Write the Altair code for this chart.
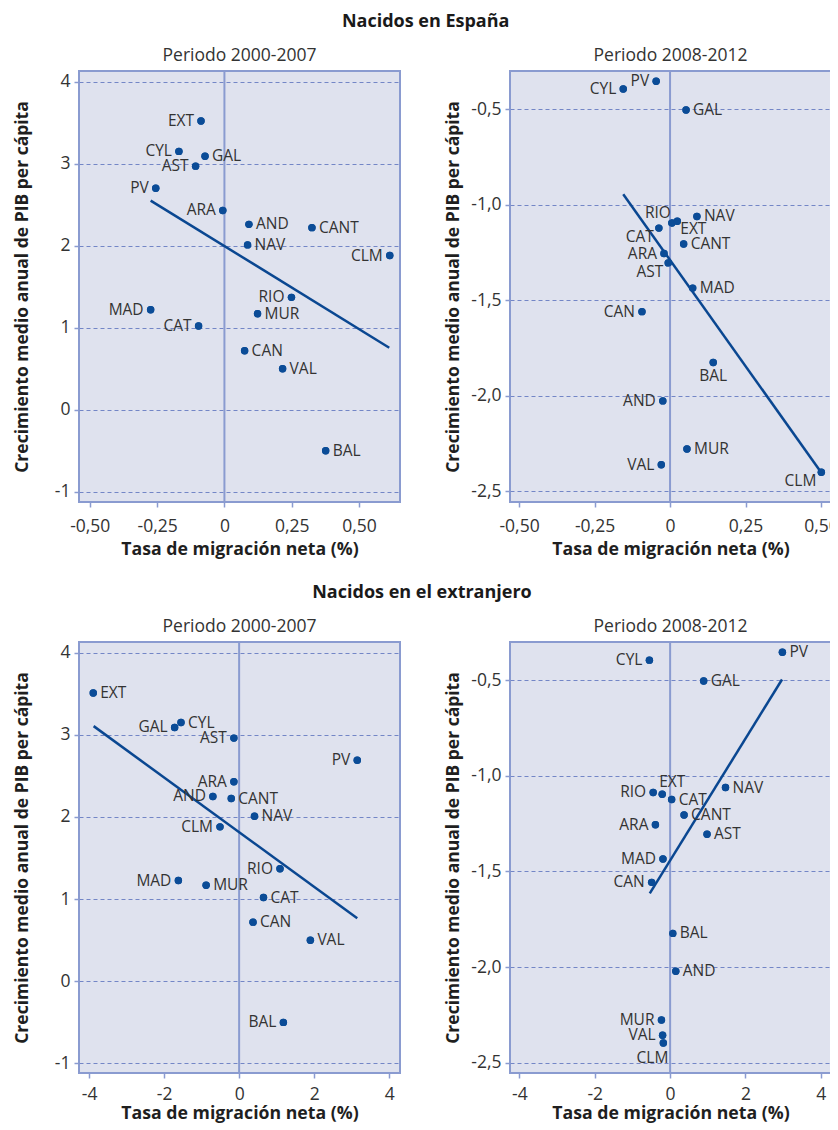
import altair as alt
import pandas as pd

FONT = "Open Sans"
PT = "#0b4c97"
BORDER = "#8a9bd0"
GRID = "#7386c6"
BG = "#dfe2ee"
TXT = "#333333"

# ---- Nacidos en España, 2000-2007
reg_1 = ["EXT", "CYL", "GAL", "AST", "PV", "ARA", "AND", "CANT", "NAV", "CLM", "RIO", "MAD", "MUR", "CAT", "CAN", "VAL", "BAL"]
x_1 = [-0.087, -0.169, -0.072, -0.107, -0.255, -0.006, 0.091, 0.325, 0.086, 0.614, 0.249, -0.274, 0.123, -0.096, 0.075, 0.216, 0.376]
y_1 = [3.52, 3.15, 3.09, 2.97, 2.70, 2.43, 2.26, 2.22, 2.01, 1.88, 1.37, 1.22, 1.17, 1.02, 0.72, 0.50, -0.50]
pos_1 = ["L", "L", "R", "L", "L", "L", "R", "R", "R", "L", "L", "L", "R", "L", "R", "R", "R"]
fitx_1 = [-0.274, 0.612]
fity_1 = [2.55, 0.756]

# ---- Nacidos en España, 2008-2012
reg_2 = ["CYL", "PV", "GAL", "NAV", "RIO", "EXT", "CAT", "CANT", "ARA", "AST", "MAD", "CAN", "BAL", "AND", "MUR", "VAL", "CLM"]
x_2 = [-0.155, -0.046, 0.053, 0.089, 0.006, 0.024, -0.037, 0.045, -0.020, -0.006, 0.075, -0.093, 0.143, -0.024, 0.056, -0.029, 0.501]
y_2 = [-0.394, -0.354, -0.504, -1.061, -1.095, -1.086, -1.122, -1.205, -1.255, -1.304, -1.436, -1.559, -1.825, -2.026, -2.278, -2.360, -2.399]
pos_2 = ["L", "L", "R", "R", "AL", "BR", "BL", "R", "L", "BL", "R", "L", "B", "L", "R", "L", "BL"]
fitx_2 = [-0.155, 0.50]
fity_2 = [-0.945, -2.399]

# ---- Nacidos en el extranjero, 2000-2007
reg_3 = ["EXT", "CYL", "GAL", "AST", "PV", "ARA", "AND", "CANT", "NAV", "CLM", "RIO", "MAD", "MUR", "CAT", "CAN", "VAL", "BAL"]
x_3 = [-3.89, -1.55, -1.72, -0.14, 3.15, -0.14, -0.70, -0.21, 0.41, -0.51, 1.09, -1.62, -0.88, 0.65, 0.37, 1.90, 1.18]
y_3 = [3.51, 3.15, 3.09, 2.96, 2.69, 2.43, 2.25, 2.225, 2.01, 1.88, 1.37, 1.227, 1.17, 1.02, 0.72, 0.50, -0.50]
pos_3 = ["R", "R", "L", "L", "L", "L", "L", "R", "R", "L", "L", "L", "R", "R", "R", "R", "L"]
fitx_3 = [-3.88, 3.15]
fity_3 = [3.106, 0.767]

# ---- Nacidos en el extranjero, 2008-2012
reg_4 = ["PV", "CYL", "GAL", "NAV", "RIO", "EXT", "CAT", "CANT", "ARA", "AST", "MAD", "CAN", "BAL", "AND", "MUR", "VAL", "CLM"]
x_4 = [2.98, -0.55, 0.89, 1.47, -0.45, -0.21, 0.04, 0.37, -0.39, 0.98, -0.19, -0.49, 0.07, 0.15, -0.23, -0.20, -0.18]
y_4 = [-0.354, -0.395, -0.504, -1.061, -1.087, -1.096, -1.124, -1.205, -1.256, -1.305, -1.435, -1.557, -1.824, -2.022, -2.277, -2.357, -2.397]
pos_4 = ["R", "L", "R", "R", "L", "A", "R", "R", "L", "R", "L", "L", "R", "R", "L", "L", "BB"]
fitx_4 = [-0.54, 2.97]
fity_4 = [-1.615, -0.496]

ticks_x_small = [-0.5, -0.25, 0, 0.25, 0.5]
ticks_x_big = [-4, -2, 0, 2, 4]
ticks_y_a = [-1, 0, 1, 2, 3, 4]
ticks_y_b = [-2.5, -2.0, -1.5, -1.0, -0.5]

EXPR_2F = "datum.value == 0 ? '0' : replace(replace(format(datum.value, '.2f'), '.', ','), '\u2212', '-')"
EXPR_1F = "replace(replace(format(datum.value, '.1f'), '.', ','), '\u2212', '-')"
EXPR_D = "replace(format(datum.value, 'd'), '\u2212', '-')"

LABEL_POS = {
    "R": ("left", 7, 0),
    "L": ("right", -7, 0),
    "AL": ("right", -1, -10),
    "BR": ("left", 3, 8),
    "BL": ("right", -5, 9),
    "B": ("center", 0, 14),
    "A": ("center", 10, -12),
    "BB": ("right", 5, 15),
}

W, H = 321, 431
FS = 17.5


def panel(regs, xs, ys, pos, fx, fy, xdom, ydom, xticks, yticks, xexpr, yexpr, title, xlp, xtp):
    df = pd.DataFrame({"region": regs, "x": xs, "y": ys, "pos": pos})
    fit = pd.DataFrame({"x": fx, "y": fy})
    xsc = alt.Scale(domain=xdom, nice=False, zero=False)
    ysc = alt.Scale(domain=ydom, nice=False, zero=False)
    xaxis = alt.Axis(
        values=xticks, labelExpr=xexpr, title="Tasa de migración neta (%)",
        grid=False, titlePadding=xtp, labelPadding=xlp, titleFontSize=17.7,
    )
    yaxis = alt.Axis(
        values=yticks, labelExpr=yexpr,
        title="Crecimiento medio anual de PIB per cápita",
        grid=True, titleX=-57, titleBaseline="middle", labelPadding=4,
    )
    xa = alt.X("x:Q", scale=xsc, axis=xaxis)
    ya = alt.Y("y:Q", scale=ysc, axis=yaxis)

    pts = alt.Chart(df).mark_circle(size=55, color=PT, opacity=1).encode(x=xa, y=ya)

    zero = alt.Chart(pd.DataFrame({"x": [0.0]})).mark_rule(
        color=BORDER, strokeWidth=2
    ).encode(x=xa)

    line = alt.Chart(fit).mark_line(color="#0a4791", strokeWidth=2.5).encode(x=xa, y=ya)

    layers = [pts, zero, line, pts]
    for k, (al, dx, dy) in LABEL_POS.items():
        if k in pos:
            t = alt.Chart(df).transform_filter(alt.datum.pos == k).mark_text(
                align=al, baseline="middle", dx=dx, dy=dy, font=FONT, fontSize=15.5, color=TXT
            ).encode(x=xa, y=ya, text="region:N")
            layers.append(t)

    return alt.layer(*layers).properties(
        width=W, height=H,
        title=alt.TitleParams(
            title, fontSize=FS, fontWeight="normal", font=FONT, color=TXT,
            anchor="middle", frame="group", offset=6,
        ),
    )


p1 = panel(reg_1, x_1, y_1, pos_1, fitx_1, fity_1, [-0.54, 0.652], [-1.125, 4.13],
           ticks_x_small, ticks_y_a, EXPR_2F, EXPR_D, "Periodo 2000-2007", 10, 5.5)
p2 = panel(reg_2, x_2, y_2, pos_2, fitx_2, fity_2, [-0.53, 0.533], [-2.555, -0.30],
           ticks_x_small, ticks_y_b, EXPR_2F, EXPR_1F, "Periodo 2008-2012", 10, 5.5)
p3 = panel(reg_3, x_3, y_3, pos_3, fitx_3, fity_3, [-4.27, 4.29], [-1.116, 4.13],
           ticks_x_big, ticks_y_a, EXPR_D, EXPR_D, "Periodo 2000-2007", 7, 2)
p4 = panel(reg_4, x_4, y_4, pos_4, fitx_4, fity_4, [-4.25, 4.27], [-2.554, -0.30],
           ticks_x_big, ticks_y_b, EXPR_D, EXPR_1F, "Periodo 2008-2012", 7, 2)

row1 = alt.hconcat(p1, p2, spacing=41).properties(
    title=alt.TitleParams("Nacidos en España", fontSize=18, fontWeight="bold", font=FONT,
                          color="#1a1a1a", anchor="middle", offset=14.5)
)
row2 = alt.hconcat(p3, p4, spacing=41).properties(
    title=alt.TitleParams("Nacidos en el extranjero", fontSize=18, fontWeight="bold", font=FONT,
                          color="#1a1a1a", anchor="middle", offset=14.5)
)

chart = alt.vconcat(row1, row2, spacing=25).properties(
    padding={"left": 3, "top": 5, "right": -10, "bottom": 0}
).configure_view(
    stroke=BORDER, strokeWidth=2, fill=BG
).configure_axis(
    labelFont=FONT, titleFont=FONT, labelFontSize=FS, titleFontSize=FS,
    labelColor=TXT, titleColor="#1f1f1f", titleFontWeight="bold",
    tickColor=BORDER, tickSize=5, tickWidth=1.5, domain=False,
    gridColor=GRID, gridDash=[4, 3], gridWidth=1,
)

chart.save("out.html", embed_options={"renderer": "svg", "actions": False})
